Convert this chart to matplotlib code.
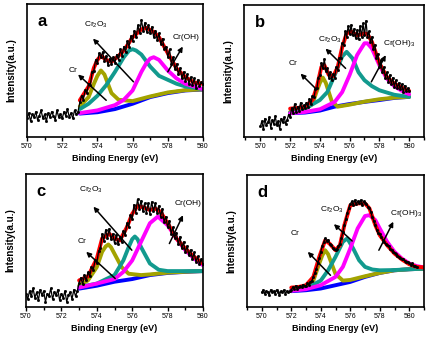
import numpy as np
import matplotlib
matplotlib.use("Agg")
import matplotlib.pyplot as plt

plt.rcParams['font.family'] = ['Liberation Sans', 'DejaVu Sans']
plt.rcParams['mathtext.default'] = 'regular'

# ---- datos medidos (x en eV, y en unidades arbitrarias 0-100) ----
# panel a
A_RAW_X = np.round(np.arange(570.0, 580.05, 0.1), 1)
A_RAW = [14, 18, 12, 17, 15, 19, 13, 16, 20, 14, 17, 12, 18, 15, 19, 16, 13, 20, 15, 17,
         14, 19, 16, 21, 15, 18, 14, 20, 17, 19,
         26, 31, 28, 35, 33, 40, 39, 49, 50, 58,
         56, 63, 60, 64, 57, 61, 54, 59, 55, 60,
         56, 62, 58, 66, 61, 68, 64, 72, 68, 76,
         72, 80, 75, 84, 78, 88, 80, 86, 79, 84,
         78, 83, 75, 80, 73, 78, 70, 74, 66, 68,
         60, 66, 55, 60, 51, 55, 47, 52, 44, 49,
         42, 47, 40, 45, 39, 44, 37, 43, 38, 41,
         40]
A_FIT_X = [573, 573.5, 573.8, 574, 574.2, 574.5, 574.8, 575.2, 575.5, 576, 576.5, 576.8,
           577.2, 577.5, 578, 578.5, 579, 579.5, 580]
A_FIT = [27.6, 38, 52, 58, 61, 58, 56.5, 61, 65, 75, 81, 82, 79, 75, 63, 51.5, 45, 41, 40]
A_BG_X = [573, 574, 575, 576, 577, 578, 579, 580]
A_BG = [17.6, 18.6, 21, 25, 30, 33, 35, 35.7]
A_CR_X = [573, 573.5, 573.8, 574, 574.2, 574.4, 574.6, 574.8, 575.2, 575.5, 576, 577, 578, 579, 580]
A_CR = [23, 30, 40, 46, 50, 47, 40, 33, 28, 27.6, 27, 30.5, 33.5, 35.2, 35.8]
A_OX_X = [573, 573.5, 574, 574.5, 575, 575.5, 575.8, 576, 576.2, 576.5, 577, 577.5, 578, 578.5, 579, 580]
A_OX = [21, 25, 31, 39, 49, 60, 65, 66, 65, 62, 53, 46, 43, 40, 38, 36]
A_OH_X = [573, 574, 575, 575.5, 576, 576.5, 576.8, 577, 577.2, 577.5, 578, 578.5, 579, 580]
A_OH = [18, 20, 24, 28, 35, 49, 56, 59, 60, 58, 50, 44, 40, 36]

# panel b
B_RAW_X = np.round(np.arange(570.0, 580.05, 0.1), 1)
B_RAW = [8, 12, 6, 14, 9, 11, 15, 7, 13, 10, 16, 9, 12, 6, 14, 11, 15, 10, 13, 17,
         15, 22, 18, 25, 19, 23, 20, 26, 21, 24,
         22, 26, 23, 29, 25, 31, 30, 36, 37, 45,
         47, 56, 52, 59, 50, 52, 45, 49, 43, 48,
         45, 53, 51, 60, 60, 71, 70, 80, 76, 84,
         78, 85, 77, 82, 75, 81, 74, 84, 76, 86,
         77, 88, 76, 80, 72, 76, 67, 70, 60, 63,
         53, 58, 49, 53, 45, 49, 42, 47, 40, 45,
         38, 43, 37, 41, 36, 40, 34, 39, 35, 37,
         35]
B_FIT_X = [572, 572.5, 573, 573.5, 573.8, 574.1, 574.3, 574.6, 574.9, 575.2, 575.5, 575.8,
           576.1, 576.5, 577, 577.2, 577.5, 578, 578.5, 579, 579.5, 580]
B_FIT = [21.5, 22, 23, 28, 38, 53, 54.4, 47, 46, 53, 68, 78.5, 80, 77, 78.5, 78, 72, 56,
         45.6, 40.5, 37.5, 35]
B_BG_X = [572, 573, 574, 575, 576, 577, 578, 579, 580]
B_BG = [18, 18.5, 20, 23, 25, 26.6, 28, 29.6, 30.4]
B_CR_X = [572, 573, 573.5, 573.8, 574, 574.2, 574.4, 574.6, 574.8, 575.2, 576, 577, 578, 579, 580]
B_CR = [19, 21, 25, 35, 41, 45, 41, 34, 27, 23, 24.5, 26.8, 28.6, 29.8, 30.4]
B_OX_X = [572, 573, 574, 574.5, 575, 575.5, 575.8, 576.2, 576.6, 577, 577.5, 578, 579, 580]
B_OX = [18.5, 21.5, 28, 34, 47, 61, 64.5, 59.5, 49, 43, 38.5, 35.4, 32, 30.4]
B_OH_X = [572, 573, 574, 575, 575.5, 576, 576.5, 577, 577.2, 577.5, 578, 578.5, 579, 579.5, 580]
B_OH = [18, 19, 21, 26.6, 34, 47, 62, 71, 71, 67, 54.4, 44.3, 38.5, 35, 32.4]

# panel c
C_RAW_X = np.round(np.arange(570.0, 580.05, 0.1), 1)
C_RAW = [10, 6, 12, 8, 14, 7, 11, 5, 13, 9, 12, 4, 10, 8, 14, 6, 11, 9, 13, 5,
         10, 7, 12, 4, 9, 11, 6, 13, 8, 12,
         18, 22, 17, 24, 20, 26, 23, 30, 28, 35,
         33, 42, 44, 55, 50, 58, 52, 59, 51, 55,
         48, 54, 47, 53, 49, 57, 54, 63, 60, 69,
         66, 77, 71, 81, 74, 80, 72, 78, 71, 78,
         70, 79, 72, 78, 71, 76, 68, 74, 64, 68,
         60, 65, 55, 60, 52, 56, 47, 53, 44, 49,
         41, 46, 39, 43, 36, 41, 34, 38, 32, 36,
         32]
C_FIT_X = [573, 573.5, 574, 574.3, 574.7, 575, 575.3, 575.7, 576, 576.3, 576.6, 577, 577.3,
           577.6, 578, 578.5, 579, 579.5, 580]
C_FIT = [20, 23, 36.4, 51.5, 55, 51.5, 50, 60, 70, 76, 75, 73, 74, 71.6, 63, 51.5, 44, 37.7, 32.7]
C_BG_X = [573, 574, 575, 576, 577, 578, 579, 580]
C_BG = [13.8, 16, 19, 21, 24, 25.6, 26.4, 27]
C_CR_X = [573, 573.5, 574, 574.3, 574.5, 574.65, 574.8, 575, 575.4, 575.8, 576.5, 577, 578, 579, 580]
C_CR = [16, 20, 30, 41.5, 45.5, 47, 45, 40, 30, 25, 24, 24.5, 25.8, 26.5, 27]
C_OX_X = [573, 574, 575, 575.5, 575.8, 576, 576.15, 576.3, 576.5, 577, 577.5, 578, 579, 580]
C_OX = [15, 17.6, 24, 35, 45, 51, 53, 51, 45, 32.7, 28, 27, 27, 27]
C_OH_X = [573, 574, 575, 575.5, 576, 576.5, 577, 577.45, 578, 578.5, 579, 579.5, 580]
C_OH = [14.6, 17.6, 21, 26.4, 35, 49, 63, 68, 61.5, 51.5, 42.7, 36.4, 31.4]

# panel d
D_RAW_X = np.round(np.arange(570.0, 580.55, 0.1), 1)
D_RAW = [11, 13, 10, 12, 11, 9, 13, 11, 12, 10, 13, 11, 9, 12, 11, 13, 10, 12, 11, 12,
         13, 15, 14, 16, 14, 15, 16, 15, 17, 16,
         16, 18, 17, 19, 20, 23, 26, 29, 33, 37,
         42, 46, 49, 52, 50, 51, 48, 47, 45, 44,
         43, 44, 46, 48, 52, 57, 62, 67, 71, 75,
         78, 80, 77, 81, 78, 80, 79, 81, 77, 80,
         79, 78, 76, 75, 72, 68, 65, 62, 58, 56,
         55, 53, 51, 49, 48, 47, 46, 44, 43, 42,
         41, 40, 39, 38, 37, 36, 36, 35, 34, 34,
         33, 32, 33, 31, 31, 30]
D_FIT_X = [572, 572.5, 573, 573.5, 573.9, 574.3, 574.6, 575, 575.3, 575.6, 576, 576.5, 577,
           577.3, 577.7, 578, 578.5, 579, 579.5, 580, 580.5, 581]
D_FIT = [14.7, 15.2, 16.5, 22.8, 38, 50.6, 48, 43, 46.8, 62, 77, 78.5, 78.5, 74.7, 62, 54.4,
         46.8, 40.5, 36, 32.4, 30.4, 30]
D_BG_X = [572, 573, 574, 575, 576, 577, 578, 579, 580, 581]
D_BG = [12, 12.7, 14, 16.5, 19, 22.8, 25.8, 27.8, 28.6, 29]
D_CR_X = [572, 573, 573.5, 573.9, 574.1, 574.3, 574.5, 574.7, 575, 575.5, 576, 577, 578, 579, 580, 581]
D_CR = [12.7, 14.7, 20, 33, 39, 43, 40, 34, 25, 20, 20.5, 23.3, 25.8, 27.8, 28.6, 29]
D_OX_X = [572, 573, 574, 574.5, 575, 575.5, 575.8, 576.2, 576.6, 577, 577.5, 578, 579, 580, 581]
D_OX = [12.5, 14, 20, 27.8, 38, 49.4, 52, 44.3, 35.4, 30.4, 28.4, 27.8, 28, 28.6, 29]
D_OH_X = [572, 573, 574, 575, 575.5, 576, 576.5, 577, 577.3, 577.7, 578, 578.5, 579, 579.5,
          580, 580.5, 581]
D_OH = [12.3, 13.5, 16.5, 22.8, 30.4, 44.3, 59.5, 68.9, 69.6, 65.8, 59.5, 49.4, 41.8, 36.7,
        33, 31, 30]

LETRAS = ['a', 'b', 'c', 'd']
XLIMS = [(570, 580), (568.9, 581), (570, 580), (569, 581)]

# etiquetas: (texto, posicion texto, cola flecha, punta flecha)
A_LABELS = [('Cr', (572.6, 50), (574.5, 27.6), (572.9, 47)),
            ('Cr$_2$O$_3$', (573.9, 84), (576.05, 41.5), (573.75, 74)),
            ('Cr(OH)', (579.05, 75), (578.0, 49), (578.85, 68))]
B_LABELS = [('Cr', (572.2, 55.7), (573.78, 36), (572.7, 48)),
            ('Cr$_2$O$_3$', (574.7, 73.4), (575.73, 52), (574.38, 67)),
            ('Cr(OH)$_3$', (579.3, 71), (577.46, 41.8), (578.43, 62))]
C_LABELS = [('Cr', (573.15, 49), (575.04, 21.4), (573.4, 41.5)),
            ('Cr$_2$O$_3$', (573.7, 88), (575.98, 42.7), (573.81, 75.4)),
            ('Cr(OH)', (579.13, 78), (578.1, 47.7), (578.87, 69))]
D_LABELS = [('Cr', (572.28, 55.7), (574.66, 24), (573.12, 41.8)),
            ('Cr$_2$O$_3$', (574.77, 73.4), (576.13, 50), (574.89, 62.8)),
            ('Cr(OH)$_3$', (579.75, 71), (577.94, 43), (578.92, 64.6))]

# posiciones de los ejes en pixeles: izquierda, derecha, arriba, abajo
CAJAS = [(27, 203, 4, 137), (244, 424, 5, 137), (26, 203, 174, 307), (247, 424, 175, 307)]


def graficarPanel(ax, raw_x, raw, curvas, etiquetas, letra, xlim):
    colores = ['#0000ff', '#a3a300', '#129a8e', '#ff00ff', '#ff0000']
    for (cx, cy), col in zip(curvas, colores):
        ax.plot(cx, cy, color=col, lw=2.8, solid_capstyle='round', zorder=2)
    ax.plot(raw_x, raw, '-s', color='black', lw=0.9, ms=1.0, zorder=3)
    for texto, pos, cola, punta in etiquetas:
        ax.text(pos[0], pos[1], texto, fontsize=6, ha='center', va='center', zorder=5)
        ax.annotate('', xy=punta, xytext=cola,
                    arrowprops=dict(arrowstyle='-|>', color='black', lw=1.1,
                                    mutation_scale=7, shrinkA=0, shrinkB=0), zorder=4)
    ax.text(0.06, 0.87, letra, transform=ax.transAxes, fontsize=12, fontweight='bold',
            ha='left', va='center')
    ax.set_xlim(*xlim)
    ax.set_ylim(0, 100)
    ax.set_xticks(np.arange(570, 581, 2))
    ax.set_xticks(np.arange(np.ceil(xlim[0]), xlim[1] + 0.01, 1), minor=True)
    ax.set_yticks([])
    ax.tick_params(axis='x', which='major', direction='out', length=3, width=1,
                   labelsize=5, pad=1.5)
    ax.tick_params(axis='x', which='minor', direction='out', length=2, width=1)
    for s in ax.spines.values():
        s.set_linewidth(1.2)
    ax.set_xlabel('Binding Energy (eV)', fontsize=6.5, fontweight='bold', labelpad=3)
    ax.set_ylabel('Intensity(a.u.)', fontsize=7, fontweight='bold', labelpad=8)


def main():
    fig = plt.figure(figsize=(4.34, 3.39), dpi=100)
    datos = [
        (A_RAW_X, A_RAW, [(A_BG_X, A_BG), (A_CR_X, A_CR), (A_OX_X, A_OX), (A_OH_X, A_OH), (A_FIT_X, A_FIT)], A_LABELS),
        (B_RAW_X, B_RAW, [(B_BG_X, B_BG), (B_CR_X, B_CR), (B_OX_X, B_OX), (B_OH_X, B_OH), (B_FIT_X, B_FIT)], B_LABELS),
        (C_RAW_X, C_RAW, [(C_BG_X, C_BG), (C_CR_X, C_CR), (C_OX_X, C_OX), (C_OH_X, C_OH), (C_FIT_X, C_FIT)], C_LABELS),
        (D_RAW_X, D_RAW, [(D_BG_X, D_BG), (D_CR_X, D_CR), (D_OX_X, D_OX), (D_OH_X, D_OH), (D_FIT_X, D_FIT)], D_LABELS),
    ]
    W, H = 434.0, 339.0
    for (raw_x, raw, curvas, etiquetas), caja, letra, xlim in zip(datos, CAJAS, LETRAS, XLIMS):
        l, r, t, b = caja
        ax = fig.add_axes([l / W, 1 - b / H, (r - l) / W, (b - t) / H])
        graficarPanel(ax, raw_x, raw, curvas, etiquetas, letra, xlim)
    fig.savefig('out.png', dpi=100)


main()
